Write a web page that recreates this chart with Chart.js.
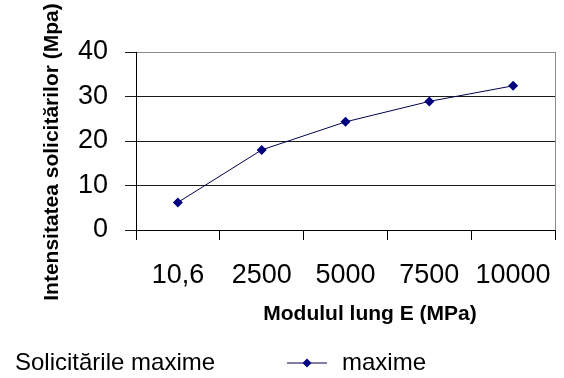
<!DOCTYPE html>
<html>
<head>
<meta charset="utf-8">
<script src="https://cdn.jsdelivr.net/npm/chart.js@4/dist/chart.umd.min.js"></script>
<style>
    body { margin: 0; background: #fff; }
    #wrap { position: relative; width: 564px; height: 378px; }
    #legend {
        position: absolute; left: 0; top: 348px; width: 564px; height: 30px;
        font: 24px 'Liberation Sans', Arial, sans-serif; color: #000;
    }
    #legend .title { position: absolute; left: 15px; top: 0; }
    #legend .key { position: absolute; left: 287px; top: 0; }
    #legend svg { position: absolute; left: 0; top: 8px; }
    #legend .name { position: absolute; left: 55px; top: 0; }
</style>
</head>
<body>
<div id="wrap">
    <canvas id="chart" width="564" height="378"></canvas>
    <div id="legend">
        <span class="title">Solicitările maxime</span>
        <span class="key">
            <svg width="42" height="14"><line x1="0" y1="7" x2="40" y2="7" stroke="#000050" stroke-width="1.2"/><polygon points="20,2.5 24.5,7 20,11.5 15.5,7" fill="#000080"/></svg>
            <span class="name">maxime</span>
        </span>
    </div>
</div>
<script>
const categories = ['10,6', '2500', '5000', '7500', '10000'];
const maxime = [6.2, 18.0, 24.3, 28.9, 32.4];
const yTicks = [0, 10, 20, 30, 40];

const FONT = "'Liberation Sans', Arial, sans-serif";
const yTitle = 'Intensitatea solicitărilor (Mpa)';
const xTitle = 'Modulul lung E (MPa)';

// titluri axe + chenarul din dreapta
const extras = {
    id: 'extras',
    beforeDatasetsDraw(chart) {
        const { ctx, chartArea } = chart;
        ctx.save();
        ctx.strokeStyle = '#8a8a8a';
        ctx.lineWidth = 1;
        ctx.beginPath();
        ctx.moveTo(chartArea.right + 0.5, chartArea.top);
        ctx.lineTo(chartArea.right + 0.5, chartArea.bottom);
        ctx.stroke();
        ctx.restore();
    },
    afterDraw(chart) {
        const { ctx } = chart;
        ctx.save();
        ctx.fillStyle = '#000';
        ctx.font = 'bold 21px ' + FONT;
        ctx.textAlign = 'center';
        ctx.textBaseline = 'middle';
        ctx.fillText(xTitle, 370, 314);
        ctx.translate(52, 152);
        ctx.rotate(-Math.PI / 2);
        ctx.fillText(yTitle, 0, 0);
        ctx.restore();
    }
};

new Chart(document.getElementById('chart'), {
    type: 'line',
    data: {
        labels: categories,
        datasets: [{
            label: 'maxime',
            data: maxime,
            borderColor: '#000050',
            borderWidth: 1,
            pointStyle: 'rectRot',
            pointRadius: 5,
            pointBackgroundColor: '#000080',
            pointBorderColor: '#000080',
            pointBorderWidth: 0,
            tension: 0
        }]
    },
    options: {
        responsive: false,
        animation: false,
        layout: { padding: { top: 52, right: 9, left: 0, bottom: 0 } },
        plugins: {
            legend: { display: false },
            tooltip: { enabled: false }
        },
        scales: {
            x: {
                offset: true,
                afterFit(scale) {
                    scale.height = 148;
                    scale.paddingLeft = 0;
                    scale.paddingRight = 0;
                },
                grid: {
                    offset: true,
                    drawOnChartArea: false,
                    tickLength: 10,
                    color: '#000'
                },
                border: { color: '#000' },
                ticks: {
                    padding: 2,
                    color: '#000',
                    maxRotation: 0,
                    font: { family: FONT, size: 27, lineHeight: '68px' }
                }
            },
            y: {
                min: 0,
                max: 40,
                afterFit(scale) { scale.width = 136; },
                afterBuildTicks(scale) { scale.ticks = yTicks.map(v => ({ value: v })); },
                grid: {
                    tickLength: 11,
                    color: ctx => ctx.tick && ctx.tick.value === 40 ? '#8a8a8a' : '#1a1a1a',
                    tickColor: '#1a1a1a'
                },
                border: { color: '#000' },
                ticks: {
                    padding: 17,
                    color: '#000',
                    font: { family: FONT, size: 27 }
                }
            }
        }
    },
    plugins: [extras]
});
</script>
</body>
</html>
